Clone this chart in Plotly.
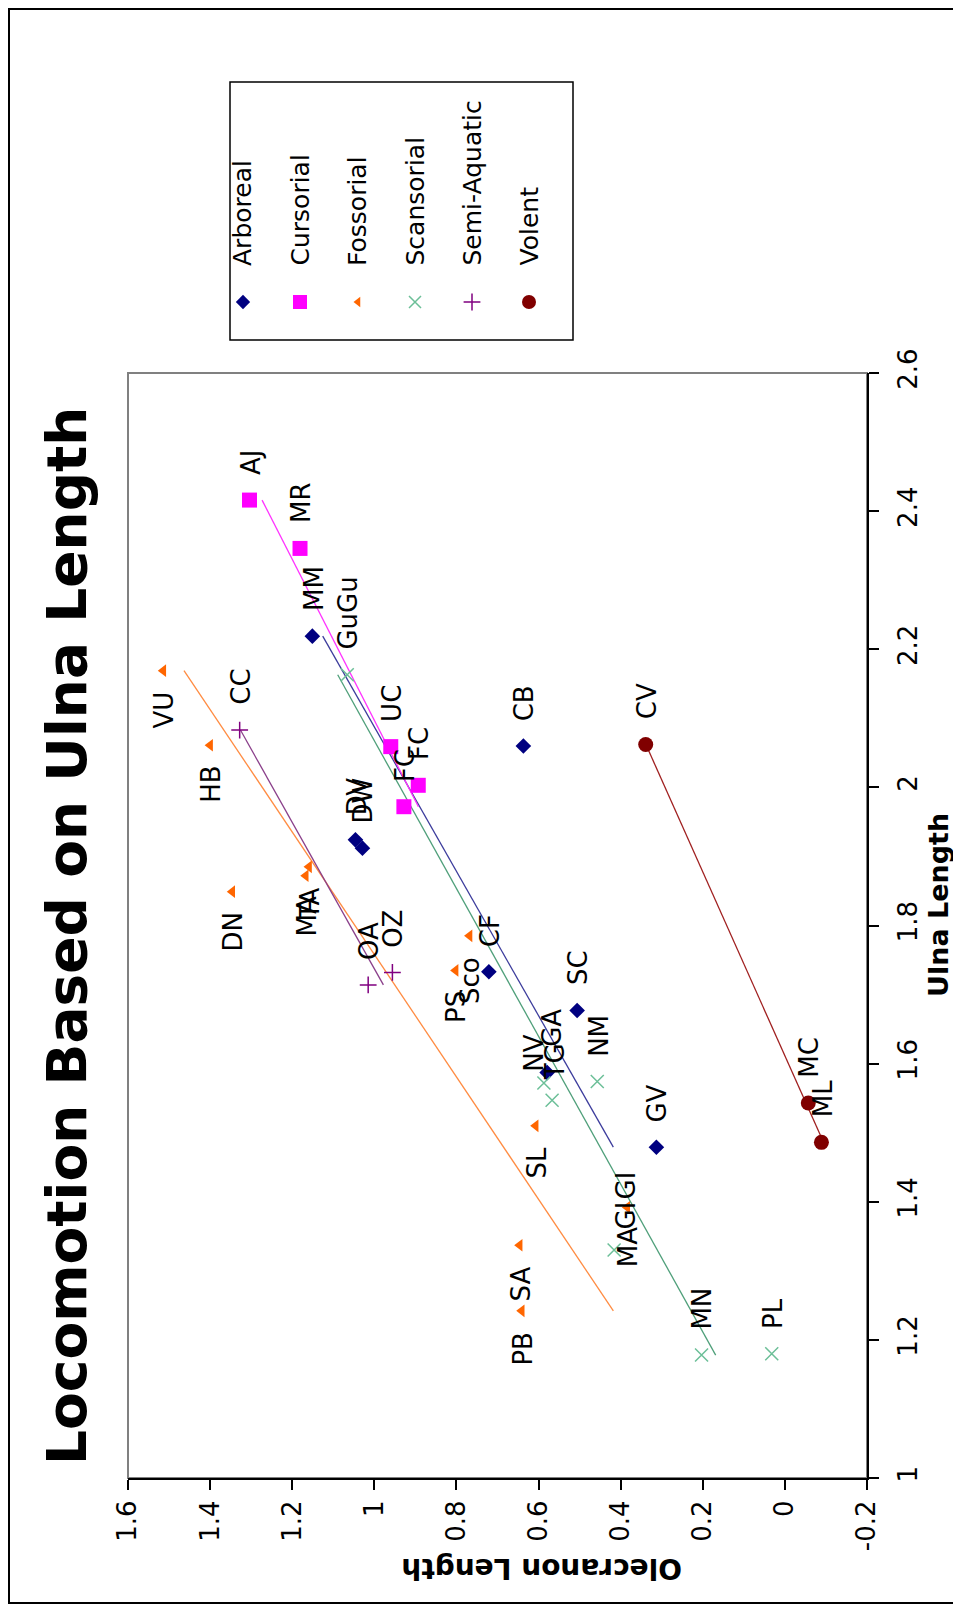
import numpy as np
import plotly.graph_objects as go

# ---------------- data (Ulna length vs Olecranon length) ----------------
arboreal_names = ["MM", "CB", "DV", "DW", "CF", "SC", "NV", "GV"]
arboreal_ulna = [2.219, 2.060, 1.924, 1.912, 1.733, 1.677, 1.587, 1.479]
arboreal_olec = [1.151, 0.637, 1.046, 1.029, 0.721, 0.506, 0.579, 0.313]

cursorial_names = ["AJ", "MR", "UC", "FC", "FC"]
cursorial_ulna = [2.416, 2.346, 2.059, 2.003, 1.972]
cursorial_olec = [1.304, 1.181, 0.960, 0.893, 0.928]

fossorial_names = ["VU", "HB", "DN", "TA", "MA", "Sco", "PS", "SL", "GI", "SA", "PB"]
fossorial_ulna = [2.169, 2.061, 1.849, 1.885, 1.872, 1.785, 1.735, 1.510, 1.392, 1.337, 1.242]
fossorial_olec = [1.514, 1.400, 1.346, 1.159, 1.167, 0.768, 0.802, 0.607, 0.384, 0.646, 0.641]

scansorial_names = ["GuGu", "GA", "TG", "NM", "MA", "MN", "PL"]
scansorial_ulna = [2.163, 1.572, 1.547, 1.574, 1.330, 1.178, 1.180]
scansorial_olec = [1.066, 0.587, 0.567, 0.457, 0.416, 0.203, 0.032]

semiaquatic_names = ["CC", "OA", "OZ"]
semiaquatic_ulna = [2.083, 1.714, 1.732]
semiaquatic_olec = [1.328, 1.015, 0.956]

volent_names = ["CV", "MC", "ML"]
volent_ulna = [2.062, 1.543, 1.486]
volent_olec = [0.339, -0.057, -0.089]

categories = ["Arboreal", "Cursorial", "Fossorial", "Scansorial", "Semi-Aquatic", "Volent"]
olec_ticks = [1.6, 1.4, 1.2, 1.0, 0.8, 0.6, 0.4, 0.2, 0.0, -0.2]
olec_tick_text = ["1.6", "1.4", "1.2", "1", "0.8", "0.6", "0.4", "0.2", "0", "-0.2"]
ulna_ticks = [1.0, 1.2, 1.4, 1.6, 1.8, 2.0, 2.2, 2.4, 2.6]
ulna_tick_text = ["1", "1.2", "1.4", "1.6", "1.8", "2", "2.2", "2.4", "2.6"]

# ---------------- layout geometry (screen pixels; page has 8px body margin) ----------------
FONT = "DejaVu Sans"
OFF = 8
W, H = 961 - OFF, 1608 - OFF
PL_X0, PL_X1 = 128, 867      # plot area, screen x
PL_Y0, PL_Y1 = 373, 1478     # plot area, screen y (top, bottom)


def px(x):
    return (x - OFF) / W


def py(y):
    return 1 - (y - OFF) / H


series = [
    dict(name="Arboreal", n=arboreal_names, u=arboreal_ulna, o=arboreal_olec,
         color="#000080", line="#3c3c9c", symbol="diamond", size=12, lw=0, side="above"),
    dict(name="Cursorial", n=cursorial_names, u=cursorial_ulna, o=cursorial_olec,
         color="#ff00ff", line="#ff33ff", symbol="square", size=15, lw=0, side="above"),
    dict(name="Fossorial", n=fossorial_names, u=fossorial_ulna, o=fossorial_olec,
         color="#ff6600", line="#ff8c42", symbol="triangle-left", size=11, lw=0, side="below"),
    dict(name="Scansorial", n=scansorial_names, u=scansorial_ulna, o=scansorial_olec,
         color="#6cbf98", line="#4f9f7a", symbol="x-thin", size=13, lw=1.5, side="above"),
    dict(name="Semi-Aquatic", n=semiaquatic_names, u=semiaquatic_ulna, o=semiaquatic_olec,
         color="#800080", line="#8a3f8a", symbol="cross-thin", size=12, lw=1.5, side="above"),
    dict(name="Volent", n=volent_names, u=volent_ulna, o=volent_olec,
         color="#800000", line="#a02020", symbol="circle", size=15, lw=0, side="above"),
]

# label placement overrides: (series, index) -> (xshift, yshift) centred
label_override = {
    ("Arboreal", 6): (-14, 19),
    ("Scansorial", 1): (8, 55),
    ("Scansorial", 2): (3, 38),
    ("Scansorial", 4): (14, 3),
    ("Fossorial", 8): (-1, -8),
}
extra_labels = [("Fossorial", 8, "GI", -1, 22)]
LABEL_SIZE = 26

fig = go.Figure()
annotations = []

for s in series:
    u = np.array(s["u"])
    o = np.array(s["o"])
    k, c = np.polyfit(u, o, 1)          # linear trendline
    uu = np.array([u.min(), u.max()])
    fig.add_trace(go.Scatter(x=k * uu + c, y=uu, mode="lines",
                             line=dict(color=s["line"], width=1.3),
                             hoverinfo="skip", showlegend=False))

for s in series:
    mk = dict(color=s["color"], size=s["size"], symbol=s["symbol"])
    mk["line"] = dict(color=s["color"], width=s["lw"]) if s["lw"] else dict(width=0)
    fig.add_trace(go.Scatter(x=s["o"], y=s["u"], mode="markers", marker=mk,
                             name=s["name"], text=s["n"], showlegend=False))
    for i, (nm, uu, oo) in enumerate(zip(s["n"], s["u"], s["o"])):
        a = dict(x=oo, y=uu, xref="x", yref="y", text=nm, showarrow=False,
                 textangle=-90, font=dict(family=FONT, size=LABEL_SIZE, color="black"),
                 xanchor="center")
        key = (s["name"], i)
        if key in label_override:
            dx, dy = label_override[key]
            a.update(yanchor="middle", xshift=dx, yshift=dy)
        elif s["side"] == "above":
            a.update(yanchor="bottom", xshift=1, yshift=23)
        else:
            a.update(yanchor="top", xshift=1, yshift=-19)
        annotations.append(a)

for sname, idx, txt, dx, dy in extra_labels:
    s = next(z for z in series if z["name"] == sname)
    annotations.append(dict(x=s["o"][idx], y=s["u"][idx], xref="x", yref="y", text=txt,
                            showarrow=False, textangle=-90,
                            font=dict(family=FONT, size=LABEL_SIZE, color="black"),
                            xanchor="center", yanchor="middle", xshift=dx, yshift=dy))

# ---------------- legend (drawn rotated) ----------------
leg_x = [243, 300, 358, 415, 472, 529]
leg_marker_y = 302
leg_text_bottom = 268
leg_sizes = [11, 14, 9, 12, 12, 14]
for s, lx, ls in zip(series, leg_x, leg_sizes):
    mk = dict(color=s["color"], size=ls, symbol=s["symbol"])
    mk["line"] = dict(color=s["color"], width=s["lw"]) if s["lw"] else dict(width=0)
    fig.add_trace(go.Scatter(x=[lx], y=[leg_marker_y], xaxis="x2", yaxis="y2",
                             mode="markers", marker=mk, cliponaxis=False,
                             hoverinfo="skip", showlegend=False))
    annotations.append(dict(x=px(lx), y=py(leg_text_bottom), xref="paper", yref="paper",
                            text=s["name"], showarrow=False, textangle=-90,
                            font=dict(family=FONT, size=25, color="black"),
                            xanchor="center", yanchor="bottom"))

# titles
annotations.append(dict(x=px(67), y=py(936), xref="paper", yref="paper",
                        text="<b>Locomotion Based on Ulna Length</b>", showarrow=False,
                        textangle=-90, font=dict(family=FONT, size=55, color="black"),
                        xanchor="center", yanchor="middle"))
annotations.append(dict(x=px(938), y=py(905), xref="paper", yref="paper",
                        text="<b>Ulna Length</b>", showarrow=False,
                        textangle=-90, font=dict(family=FONT, size=27, color="black"),
                        xanchor="center", yanchor="middle"))
annotations.append(dict(x=px(542), y=py(1569), xref="paper", yref="paper",
                        text="<b>Olecranon Length</b>", showarrow=False,
                        textangle=180, font=dict(family=FONT, size=28, color="black"),
                        xanchor="center", yanchor="middle"))

shapes = [
    # plot area frame (grey)
    dict(type="rect", xref="paper", yref="paper", x0=px(PL_X0), x1=px(PL_X1),
         y0=py(PL_Y1), y1=py(PL_Y0), line=dict(color="#808080", width=2), layer="below"),
    # legend box
    dict(type="rect", xref="paper", yref="paper", x0=px(230), x1=px(573),
         y0=py(340), y1=py(82), line=dict(color="black", width=1.5)),
    # outer chart border
    dict(type="rect", xref="paper", yref="paper", x0=px(9), x1=px(958),
         y0=py(1603), y1=py(9), line=dict(color="black", width=2)),
]

axis_common = dict(tickangle=-90, ticks="outside", ticklen=10, tickwidth=1.5,
                   tickcolor="black", showline=True, linecolor="black", linewidth=2,
                   showgrid=False, zeroline=False, automargin=False,
                   tickfont=dict(family=FONT, size=26, color="black"))

fig.update_layout(
    width=W, height=H,
    margin=dict(l=0, r=0, t=0, b=0, pad=0),
    paper_bgcolor="white", plot_bgcolor="rgba(0,0,0,0)",
    showlegend=False,
    font=dict(family=FONT, size=25, color="black"),
    xaxis=dict(range=[1.6, -0.2], tickvals=olec_ticks, ticktext=olec_tick_text,
               domain=[px(PL_X0), px(PL_X1)], anchor="y", **axis_common),
    yaxis=dict(range=[1.0, 2.6], side="right", tickvals=ulna_ticks, ticktext=ulna_tick_text,
               domain=[py(PL_Y1), py(PL_Y0)], anchor="x", ticklabelstandoff=7,
               **axis_common),
    xaxis2=dict(domain=[0, 1], range=[OFF, OFF + W], visible=False, anchor="y2"),
    yaxis2=dict(domain=[0, 1], range=[OFF + H, OFF], visible=False, anchor="x2"),
    annotations=annotations,
    shapes=shapes,
)

fig.write_html("out.html")
